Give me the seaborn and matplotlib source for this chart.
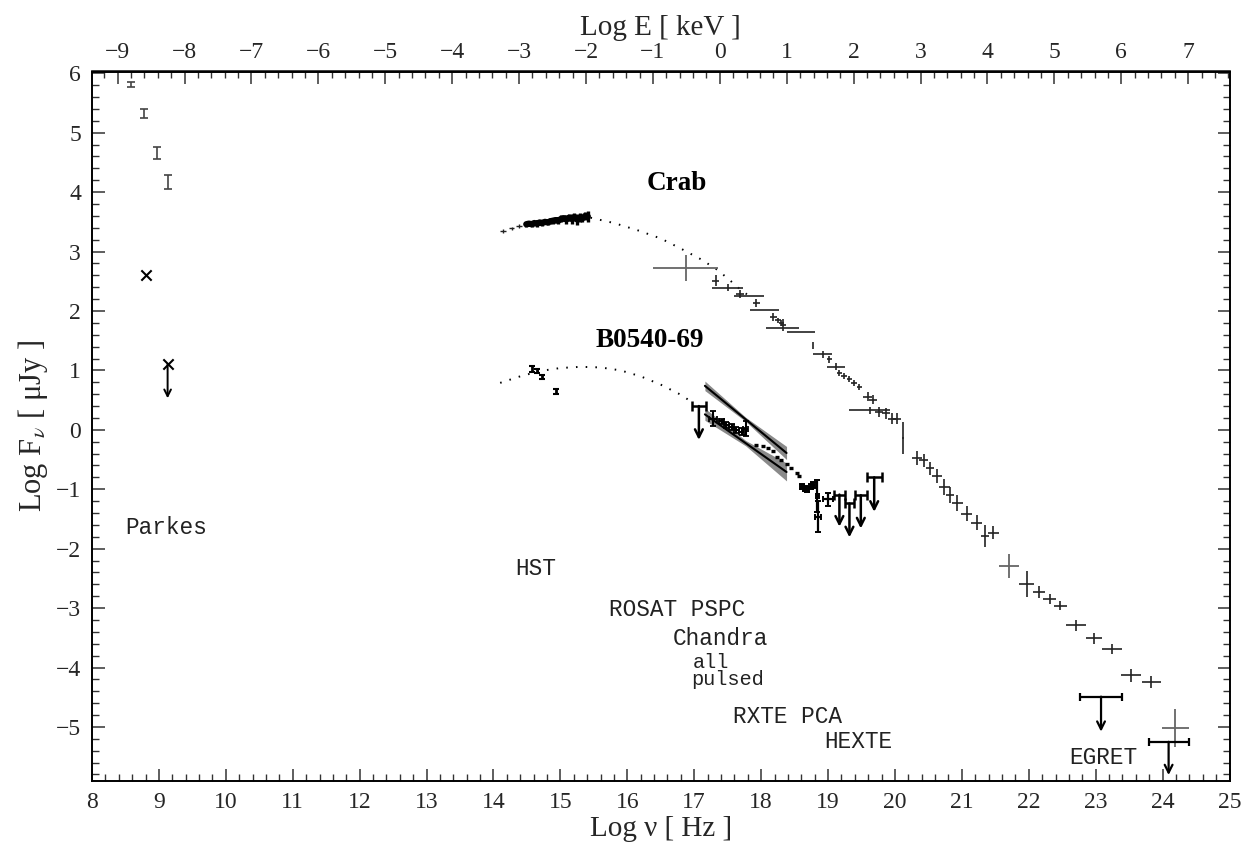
import numpy as np
import pandas as pd
import matplotlib
matplotlib.use("Agg")
import matplotlib.pyplot as plt
import seaborn as sns
from matplotlib.ticker import MultipleLocator, FixedLocator

# ---------------- data ----------------
# Parkes radio points (Crab)
parkes_x = [8.59, 8.78, 8.97, 9.14]
parkes_y = [5.81, 5.33, 4.66, 4.17]
parkes_err = [0.04, 0.075, 0.10, 0.11]

# radio crosses (B0540-69)
radio_x_x = [8.81]
radio_x_y = [2.60]
radio_ul_x = [9.13]
radio_ul_y = [1.11]
radio_ul_low = [0.53]

# Crab optical (HST) spectrum
crab_optpts_x = [14.14, 14.27, 14.38]
crab_optpts_y = [3.35, 3.39, 3.43]
crab_opt_x = [14.49, 14.53, 14.57, 14.61, 14.65, 14.69, 14.73, 14.77, 14.81, 14.85, 14.89, 14.93,
              14.97, 15.01, 15.05, 15.09, 15.13, 15.17, 15.21, 15.25, 15.29, 15.33, 15.37, 15.41]
crab_opt_y = [3.46, 3.47, 3.46, 3.48, 3.47, 3.49, 3.48, 3.50, 3.49, 3.51, 3.52, 3.53,
              3.52, 3.55, 3.56, 3.54, 3.57, 3.55, 3.58, 3.54, 3.57, 3.56, 3.60, 3.59]
crab_opt_err = [0.04, 0.04, 0.05, 0.04, 0.05, 0.04, 0.05, 0.04, 0.05, 0.05, 0.05, 0.05,
                0.06, 0.06, 0.05, 0.07, 0.06, 0.09, 0.07, 0.10, 0.08, 0.06, 0.07, 0.10]

# Crab dotted model curve
crab_model_x = [15.45, 15.8, 16.15, 16.5, 16.8, 17.1, 17.35, 17.55, 17.7, 17.8]
crab_model_y = [3.57, 3.48, 3.36, 3.22, 3.05, 2.87, 2.69, 2.50, 2.35, 2.27]

# Crab X-ray / gamma-ray points
crab_x = [17.32, 17.50, 17.68, 17.82, 17.93, 18.05, 18.18, 18.25, 18.30, 18.33, 18.32, 18.59,
          18.78, 18.92, 19.02, 19.12, 19.17, 19.24, 19.32, 19.39, 19.47, 19.59, 19.67, 19.62,
          19.76, 19.87, 19.95, 20.03, 20.12, 20.33, 20.43, 20.52, 20.63, 20.74, 20.82, 20.93,
          21.07, 21.22, 21.34, 21.47, 21.97, 22.16, 22.31, 22.47, 22.71, 22.97, 23.24, 23.53, 23.83]
crab_y = [2.51, 2.39, 2.28, 2.25, 2.13, 2.01, 1.90, 1.84, 1.80, 1.76, 1.72, 1.64,
          1.42, 1.27, 1.19, 1.06, 0.96, 0.90, 0.85, 0.78, 0.72, 0.56, 0.51, 0.33,
          0.30, 0.28, 0.19, 0.19, -0.14, -0.47, -0.51, -0.65, -0.78, -0.96, -1.10, -1.23,
          -1.41, -1.56, -1.79, -1.73, -2.60, -2.73, -2.85, -2.96, -3.29, -3.51, -3.69, -4.13, -4.24]
crab_xerr = [0.05, 0.23, 0.06, 0.22, 0.05, 0.22, 0.05, 0.04, 0.04, 0.04, 0.25, 0.21,
             0.0, 0.14, 0.04, 0.14, 0.04, 0.04, 0.04, 0.04, 0.04, 0.06, 0.06, 0.31,
             0.06, 0.06, 0.06, 0.06, 0.02, 0.08, 0.07, 0.06, 0.08, 0.08, 0.06, 0.08,
             0.08, 0.08, 0.06, 0.08, 0.11, 0.09, 0.09, 0.10, 0.15, 0.12, 0.15, 0.15, 0.14]
crab_yerr = [0.09, 0.06, 0.07, 0.0, 0.07, 0.0, 0.07, 0.05, 0.05, 0.10, 0.0, 0.0,
             0.06, 0.06, 0.06, 0.06, 0.05, 0.05, 0.05, 0.05, 0.05, 0.08, 0.08, 0.06,
             0.09, 0.09, 0.09, 0.09, 0.27, 0.12, 0.11, 0.11, 0.12, 0.13, 0.14, 0.13,
             0.12, 0.13, 0.18, 0.11, 0.22, 0.10, 0.08, 0.08, 0.09, 0.09, 0.08, 0.11, 0.10]

# Crab big gray crosses
crab_gray_x = [16.87, 21.71, 24.19]
crab_gray_y = [2.73, -2.29, -5.02]
crab_gray_xerr = [0.49, 0.15, 0.20]
crab_gray_yerr = [0.22, 0.20, 0.32]

# Crab upper limits (EGRET)
crab_ul_x = [23.08, 24.09]
crab_ul_y = [-4.49, -5.25]
crab_ul_xerr = [0.31, 0.30]
crab_ul_low = [-5.08, -5.81]

# B0540-69 optical (HST)
b_opt_x = [14.58, 14.65, 14.73, 14.94]
b_opt_y = [1.02, 0.99, 0.89, 0.64]
b_opt_err = [0.05, 0.04, 0.04, 0.04]

# B0540-69 dotted model curve
b_model_x = [14.1, 14.4, 14.7, 15.0, 15.3, 15.6, 15.9, 16.2, 16.5, 16.8, 17.0]
b_model_y = [0.79, 0.90, 0.99, 1.04, 1.06, 1.05, 1.00, 0.90, 0.76, 0.59, 0.44]

# B0540-69 ROSAT points
b_x = [17.28, 17.41, 17.48, 17.56, 17.63, 17.71, 17.77]
b_y = [0.19, 0.14, 0.08, 0.05, -0.01, -0.03, 0.02]
b_xerr = [0.06, 0.04, 0.04, 0.04, 0.04, 0.04, 0.04]
b_yerr = [0.13, 0.05, 0.05, 0.05, 0.05, 0.06, 0.12]

# B0540-69 Chandra pulsed dashes
b_ch_x = [17.93, 18.03, 18.11, 18.18, 18.23, 18.30, 18.38, 18.45, 18.53, 18.57]
b_ch_y = [-0.26, -0.28, -0.30, -0.35, -0.45, -0.51, -0.58, -0.65, -0.73, -0.77]

# B0540-69 Chandra power-law bow ties (x, line, low, high)
bow_x = [17.16, 17.77, 18.38]
bow1_line = [0.74, 0.175, -0.39]
bow1_lo = [0.66, 0.14, -0.50]
bow1_hi = [0.82, 0.21, -0.28]
bow2_line = [0.26, -0.225, -0.71]
bow2_lo = [0.16, -0.27, -0.86]
bow2_hi = [0.36, -0.18, -0.56]

# B0540-69 RXTE points
b_rx_x = [18.61, 18.65, 18.69, 18.74, 18.78, 18.84, 18.85, 19.00]
b_rx_y = [-0.96, -0.99, -1.01, -0.96, -0.93, -1.12, -1.46, -1.17]
b_rx_xerr = [0.03, 0.03, 0.03, 0.03, 0.03, 0.02, 0.04, 0.075]
b_rx_yerr = [0.04, 0.04, 0.04, 0.04, 0.05, 0.27, 0.26, 0.11]

# B0540-69 upper limits
b_ul_x = [17.07, 19.17, 19.32, 19.49, 19.69]
b_ul_y = [0.40, -1.09, -1.24, -1.10, -0.80]
b_ul_xerr = [0.11, 0.085, 0.07, 0.085, 0.11]
b_ul_low = [-0.17, -1.63, -1.81, -1.66, -1.38]

# text labels
inst_labels = ["Parkes", "HST", "ROSAT PSPC", "Chandra", "all", "pulsed", "RXTE PCA", "HEXTE", "EGRET"]
inst_x = [8.49, 14.33, 15.72, 16.68, 16.98, 16.96, 17.58, 18.95, 22.60]
inst_y = [-1.65, -2.33, -3.02, -3.52, -3.91, -4.21, -4.82, -5.24, -5.52]
inst_size = [16.4, 16.4, 16.4, 16.4, 14.6, 14.6, 16.4, 16.4, 16.4]
src_labels = ["Crab", "B0540-69"]
src_x = [16.74, 16.34]
src_y = [4.15, 1.51]

# ---------------- styling ----------------
sns.set_theme(style="ticks")
plt.rcParams['font.family'] = ['Liberation Serif', 'DejaVu Serif']
plt.rcParams['mathtext.fontset'] = 'stix'

W, H = 1257, 843
fig = plt.figure(figsize=(W / 100, H / 100), dpi=100)
fig.patch.set_facecolor('white')
ax = fig.add_axes([92 / W, 1 - 781 / H, (1229.5 - 92) / W, (781 - 71.5) / H])
ax.set_facecolor('white')
ax.set_xlim(8, 25)
ax.set_ylim(-5.91, 6.03)

for sp in ax.spines.values():
    sp.set_linewidth(1.4)
    sp.set_color('black')

ax.xaxis.set_major_locator(MultipleLocator(1))
ax.xaxis.set_minor_locator(MultipleLocator(0.2))
ax.yaxis.set_major_locator(MultipleLocator(1))
ax.yaxis.set_minor_locator(MultipleLocator(0.2))
ax.tick_params(which='both', direction='in', top=False, right=True, color='#333333',
               labelsize=17, pad=8)
ax.tick_params(which='major', length=9, width=1.1)
ax.tick_params(which='minor', length=5, width=1.0)

sec = ax.secondary_xaxis('top', functions=(lambda v: v - 17.383, lambda e: e + 17.383))
sec.xaxis.set_major_locator(FixedLocator(list(range(-9, 8))))
sec.xaxis.set_minor_locator(MultipleLocator(0.2))
sec.tick_params(which='both', direction='in', color='#333333', labelsize=17, pad=6)
sec.tick_params(which='major', length=9, width=1.1)
sec.tick_params(which='minor', length=5, width=1.0)
sec.set_xlabel('Log E [ keV ]', fontsize=21, labelpad=5)

ax.set_xlabel('Log ν [ Hz ]', fontsize=21, labelpad=2)
ax.set_ylabel(r'Log F$_{\nu}$ [ μJy ]', fontsize=22, labelpad=4)

# ---------------- marks ----------------
# Parkes
ax.errorbar(parkes_x, parkes_y, yerr=parkes_err, fmt='none', ecolor='#444444',
            elinewidth=1.2, capsize=3, capthick=1.2)

# radio crosses
sns.scatterplot(x=radio_x_x + radio_ul_x, y=radio_x_y + radio_ul_y, marker='x', s=55,
                color='black', linewidth=1.5, ax=ax, legend=False)


def upper_limits(xs, ys, xerrs, lows, lw=1.6, cap=4, ms=14):
    ax.errorbar(xs, ys, xerr=xerrs, fmt='none', ecolor='black', elinewidth=lw,
                capsize=cap, capthick=lw)
    for x, y, yl in zip(xs, ys, lows):
        ax.annotate('', xy=(x, yl), xytext=(x, y),
                    arrowprops=dict(arrowstyle='->', lw=lw, color='black',
                                    mutation_scale=ms, shrinkA=0, shrinkB=0))


upper_limits(radio_ul_x, radio_ul_y, [0] * len(radio_ul_x), radio_ul_low, lw=1.4, cap=0, ms=12)

# Crab optical
ax.errorbar(crab_optpts_x, crab_optpts_y, xerr=0.04, yerr=0.03, fmt='none', ecolor='#222222',
            elinewidth=1.0)
sns.lineplot(x=crab_opt_x, y=crab_opt_y, color='black', lw=4.5, ax=ax)
ax.errorbar(crab_opt_x, crab_opt_y, yerr=crab_opt_err, fmt='none', ecolor='black', elinewidth=2.4)

# dotted model curves
sns.lineplot(x=crab_model_x, y=crab_model_y, color='black', lw=1.4,
             linestyle=(0, (0.8, 4.2)), ax=ax)
sns.lineplot(x=b_model_x, y=b_model_y, color='black', lw=1.4,
             linestyle=(0, (0.8, 4.2)), ax=ax)

# Crab X / gamma
ax.errorbar(crab_gray_x, crab_gray_y, xerr=crab_gray_xerr, yerr=crab_gray_yerr, fmt='none',
            ecolor='#666666', elinewidth=1.3)
ax.errorbar(crab_x, crab_y, xerr=crab_xerr, yerr=crab_yerr, fmt='none', ecolor='#222222',
            elinewidth=1.2)
upper_limits(crab_ul_x, crab_ul_y, crab_ul_xerr, crab_ul_low, lw=1.6, cap=3)

# B0540 optical
ax.errorbar(b_opt_x, b_opt_y, yerr=b_opt_err, fmt='none', ecolor='black', elinewidth=2.0,
            capsize=2.5, capthick=1.5)

# bow ties
ax.fill_between(bow_x, bow1_lo, bow1_hi, color='#8a8a8a', lw=0)
ax.fill_between(bow_x, bow2_lo, bow2_hi, color='#8a8a8a', lw=0)
sns.lineplot(x=bow_x, y=bow1_line, color='black', lw=1.5, ax=ax)
sns.lineplot(x=bow_x, y=bow2_line, color='black', lw=1.5, ax=ax)

# B0540 ROSAT
ax.errorbar(b_x, b_y, xerr=b_xerr, yerr=b_yerr, fmt='none', ecolor='black', elinewidth=1.5,
            capsize=2.5, capthick=1.3)
# Chandra pulsed dashes
ax.errorbar(b_ch_x, b_ch_y, xerr=0.03, fmt='none', ecolor='black', elinewidth=2.4)
# RXTE
ax.errorbar(b_rx_x, b_rx_y, xerr=b_rx_xerr, yerr=b_rx_yerr, fmt='none', ecolor='black',
            elinewidth=1.6, capsize=2.5, capthick=1.4)
upper_limits(b_ul_x, b_ul_y, b_ul_xerr, b_ul_low, lw=1.8, cap=3.5)

# ---------------- text ----------------
for t, x, y, s in zip(inst_labels, inst_x, inst_y, inst_size):
    ax.text(x, y, t, fontsize=s, family=['Liberation Mono', 'DejaVu Sans Mono'],
            ha='left', va='center', color='#222222')
for t, x, y in zip(src_labels, src_x, src_y):
    ax.text(x, y, t, fontsize=19.5, fontweight='bold', ha='center', va='center', color='black')

fig.savefig('out.png', dpi=100, facecolor='white')
